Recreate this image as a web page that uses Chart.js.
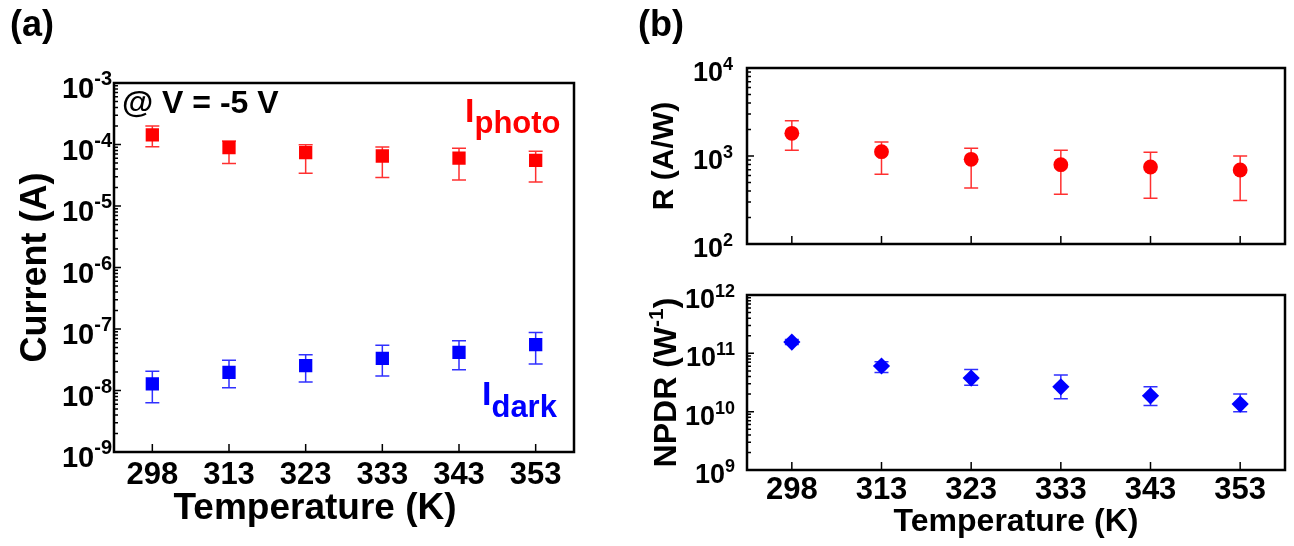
<!DOCTYPE html>
<html>
<head>
<meta charset="utf-8">
<script src="https://cdn.jsdelivr.net/npm/chart.js@4.4.1/dist/chart.umd.min.js"></script>
<style>
  body { margin: 0; background: #fff; }
  #wrap { position: relative; width: 1294px; height: 546px; overflow: hidden; }
  canvas { position: absolute; }
</style>
</head>
<body>
<div id="wrap">
  <canvas id="chartA" width="640" height="546" style="left:0px;top:0px"></canvas>
  <canvas id="chartR" width="674" height="272" style="left:620px;top:0px"></canvas>
  <canvas id="chartN" width="674" height="274" style="left:620px;top:272px"></canvas>
</div>
<script>
// temperatures (K)
var temps = ['298', '313', '323', '333', '343', '353'];

// (a) current at V = -5 V
var photo   = [1.43e-4, 8.9e-5, 7.4e-5, 6.5e-5, 6.0e-5, 5.5e-5];
var photoHi = [2.0e-4, 1.14e-4, 9.9e-5, 9.1e-5, 8.7e-5, 7.8e-5];
var photoLo = [9.2e-5, 4.9e-5, 3.4e-5, 2.9e-5, 2.65e-5, 2.45e-5];
var dark    = [1.28e-8, 1.97e-8, 2.53e-8, 3.34e-8, 4.18e-8, 5.56e-8];
var darkHi  = [2.05e-8, 3.09e-8, 3.82e-8, 5.43e-8, 6.45e-8, 8.8e-8];
var darkLo  = [6.3e-9, 1.11e-8, 1.37e-8, 1.72e-8, 2.18e-8, 2.7e-8];

// (b) responsivity and NPDR
var resp    = [1810, 1120, 916, 797, 750, 693];
var respHi  = [2520, 1440, 1222, 1160, 1100, 1000];
var respLo  = [1160, 620, 433, 367, 330, 313];
var npdr    = [1.56e11, 6.06e10, 3.77e10, 2.67e10, 1.87e10, 1.35e10];
var npdrHi  = [1.72e11, 7.2e10, 5.3e10, 4.25e10, 2.67e10, 2.0e10];
var npdrLo  = [1.42e11, 4.7e10, 2.83e10, 1.66e10, 1.28e10, 1.0e10];

// decade exponents shown on each y axis
var currentExps = [-9, -8, -7, -6, -5, -4, -3];
var respExps = [2, 3, 4];
var npdrExps = [9, 10, 11, 12];

var FONT = "'Liberation Sans', Arial, Helvetica, sans-serif";
Chart.defaults.font.family = FONT;
Chart.defaults.font.weight = 'bold';
Chart.defaults.color = '#000';

function bold(size) {
    return 'bold ' + size + 'px ' + FONT;
}

// draw a run of text parts, each with its own size and baseline shift
function drawRun(ctx, run) {
    ctx.save();
    ctx.translate(run.x, run.y);
    if (run.rot) ctx.rotate(run.rot);
    ctx.fillStyle = run.color || '#000';
    ctx.textBaseline = 'alphabetic';
    ctx.textAlign = 'left';
    var total = 0;
    run.parts.forEach(function (p) {
        ctx.font = bold(p.size);
        total += ctx.measureText(p.t).width;
    });
    var cx = run.center ? -total / 2 : 0;
    run.parts.forEach(function (p) {
        ctx.font = bold(p.size);
        ctx.fillText(p.t, cx, p.dy || 0);
        cx += ctx.measureText(p.t).width;
    });
    ctx.restore();
}

var deco = {
    id: 'deco',
    beforeDatasetsDraw: function (chart) {
        var ctx = chart.ctx, ys = chart.scales.y;
        chart.data.datasets.forEach(function (ds, i) {
            var meta = chart.getDatasetMeta(i);
            ctx.save();
            ctx.strokeStyle = ds.errColor;
            ctx.lineWidth = 1.5;
            ctx.beginPath();
            meta.data.forEach(function (pt, j) {
                var yh = ys.getPixelForValue(ds.errHi[j]);
                var yl = ys.getPixelForValue(ds.errLo[j]);
                ctx.moveTo(pt.x, yh); ctx.lineTo(pt.x, yl);
                ctx.moveTo(pt.x - 7, yh); ctx.lineTo(pt.x + 7, yh);
                ctx.moveTo(pt.x - 7, yl); ctx.lineTo(pt.x + 7, yl);
            });
            ctx.stroke();
            ctx.restore();
        });
    },
    afterDraw: function (chart, args, opts) {
        var ctx = chart.ctx, a = chart.chartArea, xs = chart.scales.x, ys = chart.scales.y;
        var exps = opts.exps;
        ctx.save();
        ctx.strokeStyle = '#000';
        ctx.lineWidth = 1.5;
        ctx.beginPath();
        // category ticks, pointing into the plot
        xs.ticks.forEach(function (t, i) {
            var px = xs.getPixelForTick(i);
            ctx.moveTo(px, a.bottom); ctx.lineTo(px, a.bottom - 8);
        });
        // log ticks on the left axis
        for (var e = exps[0]; e <= exps[exps.length - 1]; e++) {
            var py = ys.getPixelForValue(Math.pow(10, e));
            ctx.moveTo(a.left, py); ctx.lineTo(a.left + 7, py);
            if (e < exps[exps.length - 1]) {
                for (var k = 2; k <= 9; k++) {
                    var pm = ys.getPixelForValue(k * Math.pow(10, e));
                    ctx.moveTo(a.left, pm); ctx.lineTo(a.left + 4, pm);
                }
            }
        }
        ctx.stroke();
        // frame
        ctx.lineWidth = 2.5;
        ctx.strokeRect(a.left, a.top, a.right - a.left, a.bottom - a.top);
        // y tick labels 10^n
        exps.forEach(function (e) {
            var py = ys.getPixelForValue(Math.pow(10, e));
            ctx.font = bold(opts.labelSize);
            var w1 = ctx.measureText('10').width;
            ctx.font = bold(opts.supSize);
            var w2 = ctx.measureText(String(e)).width;
            var x0 = opts.labelRight - w1 - w2;
            drawRun(ctx, {x: x0, y: py + opts.labelDy, parts: [
                {t: '10', size: opts.labelSize},
                {t: String(e), size: opts.supSize, dy: -opts.supRise}
            ]});
        });
        (opts.runs || []).forEach(function (r) {
            if (r.midY) r.y = (a.top + a.bottom) / 2;
            drawRun(ctx, r);
        });
        ctx.restore();
    }
};

function yLog(min, max, width, title) {
    return {
        type: 'logarithmic',
        min: min,
        max: max,
        grid: { display: false },
        border: { display: false },
        ticks: { display: false },
        title: title,
        afterFit: function (s) { s.width = width; }
    };
}

function xCat(height, showLabels, pad, title) {
    return {
        type: 'category',
        offset: true,
        grid: { display: false },
        border: { display: false },
        ticks: { display: showLabels, padding: pad, font: { size: 31, weight: 'bold' }, maxRotation: 0 },
        title: title,
        afterFit: function (s) { s.height = height; }
    };
}

function pointSet(values, hi, lo, color, errColor, style, radius) {
    return {
        data: values,
        errHi: hi,
        errLo: lo,
        errColor: errColor,
        showLine: false,
        pointStyle: style,
        pointRadius: radius,
        pointBackgroundColor: color,
        pointBorderColor: color,
        pointBorderWidth: 0
    };
}

function commonPlugins(decoOpts) {
    return {
        legend: { display: false },
        tooltip: { enabled: false },
        deco: decoOpts
    };
}

// (a) photo / dark current
new Chart(document.getElementById('chartA'), {
    type: 'line',
    data: {
        labels: temps,
        datasets: [
            pointSet(photo, photoHi, photoLo, '#ff0000', '#ff3030', 'rect', 9.4),
            pointSet(dark, darkHi, darkLo, '#0000ff', '#3030ff', 'rect', 9.4)
        ]
    },
    options: {
        responsive: false,
        animation: false,
        devicePixelRatio: 1,
        layout: { padding: { top: 83, right: 66, left: 0, bottom: 0 } },
        scales: {
            x: xCat(94, true, -3, { display: false }),
            y: yLog(1e-9, 1e-3, 114, { display: true, text: 'Current (A)', font: { size: 36, weight: 'bold' }, padding: { top: 14, bottom: 0 } })
        },
        plugins: commonPlugins({
            exps: currentExps, labelSize: 29, supSize: 20, labelRight: 112, labelDy: 15, supRise: 13,
            runs: [
                { x: 10, y: 36, parts: [{ t: '(a)', size: 36 }] },
                { x: 122, y: 113, parts: [{ t: '@ V = -5 V', size: 32 }] },
                { x: 465, y: 122, color: '#ff0000', parts: [{ t: 'I', size: 34 }, { t: 'photo', size: 31, dy: 11 }] },
                { x: 482, y: 405, color: '#0000ff', parts: [{ t: 'I', size: 34 }, { t: 'dark', size: 31, dy: 12 }] },
                { x: 315, y: 519, center: true, parts: [{ t: 'Temperature (K)', size: 37 }] }
            ]
        })
    },
    plugins: [deco]
});

// (b) top: responsivity
new Chart(document.getElementById('chartR'), {
    type: 'line',
    data: {
        labels: temps,
        datasets: [pointSet(resp, respHi, respLo, '#ff0000', '#ff3030', 'circle', 7.4)]
    },
    options: {
        responsive: false,
        animation: false,
        devicePixelRatio: 1,
        layout: { padding: { top: 68, right: 9, left: 0, bottom: 0 } },
        scales: {
            x: xCat(28, false, 0, { display: false }),
            y: yLog(1e2, 1e4, 127, { display: true, text: 'R (A/W)', font: { size: 30, weight: 'bold' }, padding: { top: 27, bottom: 0 } })
        },
        plugins: commonPlugins({
            exps: respExps, labelSize: 27, supSize: 18, labelRight: 113, labelDy: 13, supRise: 11,
            runs: [
                { x: 18, y: 36, parts: [{ t: '(b)', size: 36 }] }
            ]
        })
    },
    plugins: [deco]
});

// (b) bottom: NPDR
new Chart(document.getElementById('chartN'), {
    type: 'line',
    data: {
        labels: temps,
        datasets: [pointSet(npdr, npdrHi, npdrLo, '#0000ff', '#3030ff', 'rectRot', 8.6)]
    },
    options: {
        responsive: false,
        animation: false,
        devicePixelRatio: 1,
        layout: { padding: { top: 23, right: 9, left: 0, bottom: 0 } },
        scales: {
            x: xCat(76, true, -6, { display: true, text: 'Temperature (K)', font: { size: 32, weight: 'bold' }, padding: { top: 0, bottom: 5 } }),
            y: yLog(1e9, 1e12, 127, { display: false })
        },
        plugins: commonPlugins({
            exps: npdrExps, labelSize: 27, supSize: 18, labelRight: 115, labelDy: 13, supRise: 11,
            runs: [
                { x: 56, y: 0, midY: true, rot: -Math.PI / 2, center: true, parts: [
                    { t: 'NPDR (W', size: 32 }, { t: '-1', size: 21, dy: -13 }, { t: ')', size: 32 }
                ] }
            ]
        })
    },
    plugins: [deco]
});
</script>
</body>
</html>
